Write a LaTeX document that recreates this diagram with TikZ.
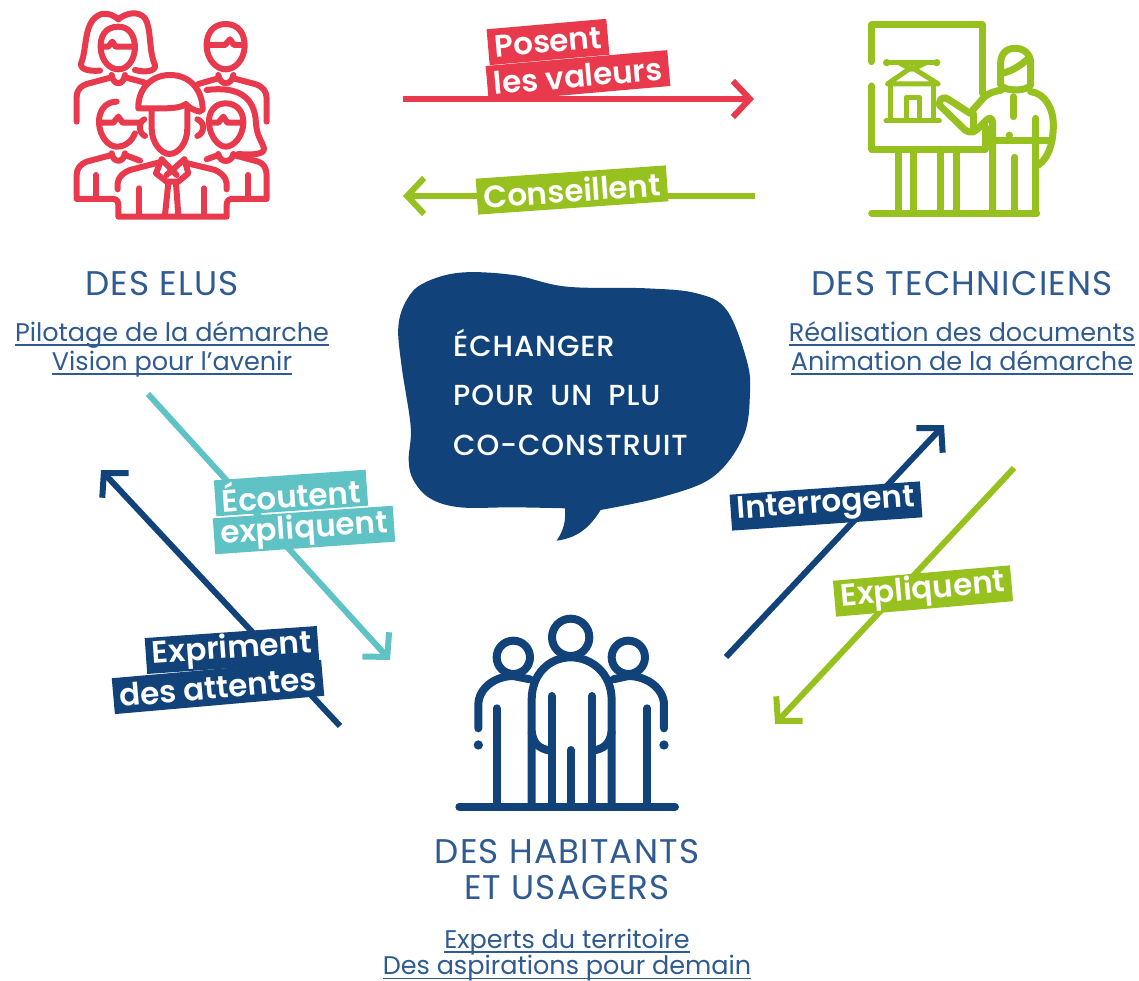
\documentclass[tikz,border=0pt]{standalone}
\usepackage{fontspec}
\setmainfont{Poppins}[BoldFont={Poppins SemiBold}]
\newfontfamily\titrefont{Poppins}[LetterSpace=3.5]
\newfontfamily\slogansfont{Poppins Medium}[LetterSpace=3.2,WordSpace=1.9]
\usetikzlibrary{arrows.meta}
\definecolor{rouge}{HTML}{E8394D}
\definecolor{vert}{HTML}{97C11F}
\definecolor{marine}{HTML}{11437A}
\definecolor{turquoise}{HTML}{5FC2C4}
\definecolor{texte}{HTML}{2F5A92}
\newsavebox\boitesoul
\newcommand\souligne[1]{\sbox\boitesoul{#1}\usebox\boitesoul\llap{\rule[-4.5pt]{\wd\boitesoul}{1.3pt}}}
\tikzset{
  fleche/.style={line width=6pt, -{Straight Barb[length=17pt,width=36pt,line width=6pt]}},
  etiquette/.style={text=white, font=\fontsize{31}{31}\selectfont\bfseries, inner xsep=6.5pt, inner ysep=1pt, minimum height=36pt},
  titre/.style={text=texte, font=\titrefont\fontsize{34.2}{35}\selectfont},
  soustitre/.style={text=texte, anchor=base, inner sep=0pt, font=\fontsize{25.5}{26}\selectfont},
  picto/.style={line cap=round, line join=round},
  slogan/.style={text=white, anchor=west, inner sep=0pt, font=\slogansfont\fontsize{29}{30}\selectfont}
}
\begin{document}
\begin{tikzpicture}[x=1pt,y=-1pt]
  \useasboundingbox (0,0) rectangle (1139,981);

  % Elus
  \begin{scope}[shift={(50,0)},x=0.3333pt,y=-0.3333pt,picto,line width=6pt]
    % femme
    \draw[rouge] (150,212) .. controls (110,215) and (85,205) .. (95,185) .. controls (112,140) and (100,60) .. (155,42) .. controls (175,38) and (195,48) .. (205,58) .. controls (225,40) and (265,30) .. (285,55) .. controls (305,85) and (295,150) .. (315,195) .. controls (318,215) and (285,218) .. (255,210);
    \draw[rouge] (205,80) .. controls (165,80) and (150,110) .. (152,145) .. controls (155,185) and (180,208) .. (205,208) .. controls (230,208) and (252,185) .. (255,145) .. controls (255,110) and (240,80) .. (205,80);
    \draw[rouge] (155,140) -- (175,140) -- (187,125) -- (197,140) -- (252,140);
    \draw[rouge] (185,225) .. controls (190,258) and (220,258) .. (225,225);
    \draw[rouge] (80,365) -- (80,290) .. controls (82,265) and (95,258) .. (110,252) -- (185,232);
    \draw[rouge] (225,232) -- (285,248);
    % homme
    \draw[rouge] (527,72) .. controls (490,72) and (468,100) .. (470,140) .. controls (472,180) and (500,208) .. (527,208) .. controls (555,208) and (582,180) .. (584,140) .. controls (585,100) and (565,72) .. (527,72);
    \draw[rouge] (472,135) -- (525,135) -- (540,118) -- (552,135) -- (582,135);
    \draw[rouge] (505,225) .. controls (510,258) and (545,258) .. (550,225);
    \draw[rouge] (445,252) -- (505,235);
    \draw[rouge] (550,235) -- (615,252) .. controls (640,260) and (650,275) .. (650,295) -- (650,365);
    % homme devant
    \draw[rouge] (200,305) .. controls (165,305) and (145,335) .. (147,370) .. controls (150,410) and (175,440) .. (200,440) .. controls (225,440) and (245,425) .. (255,400);
    \draw[rouge] (147,368) -- (190,368) -- (205,350) -- (218,368) -- (265,368);
    \draw[rouge] (185,460) .. controls (190,490) and (220,490) .. (225,460);
    \draw[rouge] (185,465) -- (110,485) .. controls (92,492) and (80,505) .. (80,525) -- (80,597) -- (190,597) .. controls (200,597) and (205,605) .. (205,615) -- (205,650) -- (530,650) -- (530,615) .. controls (530,605) and (535,597) .. (545,597) -- (650,597) -- (650,525) .. controls (650,505) and (640,490) .. (625,485) -- (550,465);
    \draw[rouge] (225,465) -- (270,482);
    \draw[rouge] (138,525) -- (138,597);
    \draw[rouge] (595,525) -- (595,597);
    % femme devant
    \draw[rouge] (527,310) .. controls (495,310) and (475,335) .. (477,370) .. controls (480,410) and (505,440) .. (527,440) .. controls (552,440) and (578,410) .. (580,370) .. controls (582,335) and (560,310) .. (527,310);
    \draw[rouge] (480,368) -- (505,368) -- (520,350) -- (532,368) -- (578,368);
    \draw[rouge] (505,462) .. controls (510,490) and (545,490) .. (550,462);
    \draw[rouge] (470,270) .. controls (550,260) and (615,280) .. (618,370) .. controls (620,410) and (640,430) .. (642,445) .. controls (645,465) and (600,465) .. (565,462);
    \draw[rouge] (470,478) -- (505,465);
    % homme au centre
    \draw[rouge] (265,322) .. controls (265,265) and (305,225) .. (360,225) .. controls (420,225) and (458,270) .. (458,330);
    \draw[rouge] (265,325) -- (340,325) .. controls (370,325) and (395,322) .. (408,312) .. controls (418,325) and (435,332) .. (450,335);
    \draw[rouge] (305,330) -- (305,385) .. controls (305,430) and (335,462) .. (358,462) .. controls (385,462) and (412,430) .. (412,385) -- (412,320);
    \draw[rouge] (283,358) .. controls (265,365) and (265,400) .. (285,408);
    \draw[rouge] (442,358) .. controls (465,365) and (465,400) .. (442,408);
    \draw[rouge] (335,478) -- (318,520) -- (350,545) -- (385,545) -- (415,520) -- (403,478);
    \draw[rouge] (335,478) -- (380,525);
    \draw[rouge] (403,478) -- (350,525);
    \draw[rouge] (345,645) -- (355,550);
    \draw[rouge] (385,645) -- (378,550);
    \draw[rouge] (203,568) -- (203,550) .. controls (205,530) and (220,518) .. (240,510) -- (325,488);
    \draw[rouge] (530,568) -- (530,550) .. controls (528,530) and (512,518) .. (495,510) -- (405,488);
    \draw[rouge] (268,565) -- (268,645);
    \draw[rouge] (462,565) -- (462,645);
  \end{scope}

  % Techniciens
  \begin{scope}[shift={(850,10)},x=0.3333pt,y=-0.3333pt,picto,line width=7pt]
    \draw[vert] (65,155) -- (65,45) -- (398,45) -- (398,250);
    \draw[vert] (65,228) -- (65,418) -- (405,418) -- (405,350);
    \draw[vert] (145,418) -- (145,610);
    \draw[vert] (190,418) -- (190,610);
    \draw[vert] (272,418) -- (272,610);
    \draw[vert] (318,418) -- (318,610);
    \draw[vert] (65,610) -- (560,610);
    % maison
    \draw[vert,line width=5pt] (110,158) -- (260,158);
    \fill[vert] (110,158) circle (11) (260,158) circle (11);
    \draw[vert,line width=5pt] (150,160) -- (185,178) -- (225,160);
    \draw[vert,line width=5pt] (112,222) -- (185,172) -- (265,222) -- cycle;
    \draw[vert,line width=5pt] (122,225) -- (122,330);
    \draw[vert,line width=5pt] (250,225) -- (250,330);
    \draw[vert,line width=5pt] (108,333) -- (268,333);
    \draw[vert,line width=5pt] (168,330) -- (168,262) -- (208,262) -- (208,330);
    % personne
    \draw[vert] (452,225) -- (452,160) .. controls (452,130) and (470,115) .. (495,115) .. controls (520,115) and (542,130) .. (542,160) -- (542,225) .. controls (530,245) and (465,245) .. (452,225);
    \draw[vert] (455,190) .. controls (480,185) and (505,172) .. (530,150);
    \draw[vert] (268,280) .. controls (270,262) and (285,260) .. (295,268) -- (360,310) -- (395,270) .. controls (410,250) and (430,245) .. (455,240);
    \draw[vert] (542,245) .. controls (585,250) and (610,295) .. (610,345) .. controls (610,400) and (595,445) .. (565,465);
    \draw[vert] (268,285) -- (345,360) .. controls (360,372) and (375,365) .. (385,355) -- (410,330) .. controls (420,320) and (428,325) .. (428,340) -- (428,610);
    \draw[vert] (370,312) -- (370,365);
    \draw[vert] (490,260) -- (490,320);
    \draw[vert] (558,325) -- (558,610);
    \draw[vert] (430,392) -- (605,392);
    \fill[vert] (478,376) circle (11);
    \draw[vert] (495,442) -- (495,610);
  \end{scope}

  % Habitants
  \begin{scope}[shift={(440,600)},x=0.3333pt,y=-0.3333pt,picto,line width=8pt]
    \draw[marine] (392,112) circle (56);
    \draw[marine] (220,172) circle (50);
    \draw[marine] (565,172) circle (50);
    \draw[marine] (275,620) -- (275,300) .. controls (275,220) and (330,172) .. (392,172) .. controls (455,172) and (515,220) .. (515,300) -- (515,620);
    \draw[marine] (275,395) .. controls (280,430) and (295,445) .. (330,452);
    \draw[marine] (515,395) .. controls (510,430) and (495,445) .. (460,452);
    \draw[marine] (335,288) -- (335,620);
    \draw[marine] (456,288) -- (456,620);
    \draw[marine] (392,450) -- (392,620);
    \draw[marine] (115,385) -- (115,315) .. controls (115,265) and (165,228) .. (220,228) -- (270,238);
    \draw[marine] (672,385) -- (672,315) .. controls (672,265) and (620,228) .. (565,228) -- (520,238);
    \draw[marine] (170,325) -- (170,620);
    \draw[marine] (622,325) -- (622,620);
    \fill[marine] (115,435) circle (14) (672,435) circle (14);
    \draw[marine] (58,620) -- (705,620);
  \end{scope}

  % Bulle
  \begin{scope}[shift={(380,260)},x=0.3333pt,y=-0.3333pt]
    \fill[marine] plot[smooth,tension=.6] coordinates {(555,745) (400,742) (240,742) (150,715) (100,660) (86,600) (92,500) (65,320) (55,200) (80,120) (130,70) (240,38) (400,45) (560,80) (800,85) (950,100) (1040,150) (1100,300) (1110,400) (1090,530) (1000,650) (850,710) (662,750)} .. controls (625,810) and (585,835) .. (530,842) .. controls (552,810) and (558,780) .. (555,745) -- cycle;
  \end{scope}
  \node[slogan] (echanger) at (453,343) {ÉCHANGER};
  \node[slogan] (plu) at (453,395) {POUR UN PLU};
  \node[slogan] (construit) at (453,445) {CO-CONSTRUIT};

  % Titres
  \node[titre] (elus) at (162,284) {DES ELUS};
  \node[soustitre] (pilotage) at (172,341) {\souligne{Pilotage de la démarche}};
  \node[soustitre] (vision) at (172,370) {\souligne{Vision pour l’avenir}};
  \node[titre] (techniciens) at (962,284) {DES TECHNICIENS};
  \node[soustitre] (realisation) at (962,341) {\souligne{Réalisation des documents}};
  \node[soustitre] (animation) at (962,370) {\souligne{Animation de la démarche}};
  \node[titre] (habitants) at (567,852) {DES HABITANTS};
  \node[titre] (usagers) at (567,888) {ET USAGERS};
  \node[soustitre] (experts) at (567,948) {\souligne{Experts du territoire}};
  \node[soustitre] (aspirations) at (567,974.5) {\souligne{Des aspirations pour demain}};

  % Fleches
  \coordinate (valeursA) at (403,99);
  \coordinate (valeursB) at (754,99);
  \coordinate (conseilA) at (755,196);
  \coordinate (conseilB) at (403,196);
  \coordinate (ecouteA) at (148,394);
  \coordinate (ecouteB) at (390,660);
  \coordinate (attenteA) at (340,726);
  \coordinate (attenteB) at (101,470);
  \coordinate (interrogeA) at (726,657);
  \coordinate (interrogeB) at (944,425);
  \coordinate (expliqueA) at (1014,468);
  \coordinate (expliqueB) at (775,724);
  \draw[fleche,rouge] (valeursA) -- (valeursB);
  \draw[fleche,vert] (conseilA) -- (conseilB);
  \draw[fleche,turquoise] (ecouteA) -- (ecouteB);
  \draw[fleche,marine] (attenteA) -- (attenteB);
  \draw[fleche,marine] (interrogeA) -- (interrogeB);
  \draw[fleche,vert] (expliqueA) -- (expliqueB);

  % Etiquettes
  \node[etiquette,fill=rouge,rotate=5] (posent) at (548,42) {Posent};
  \node[etiquette,fill=rouge,rotate=5] (lesvaleurs) at (578,76) {les valeurs};
  \node[etiquette,fill=vert,rotate=4] (conseillent) at (572,190) {Conseillent};
  \node[etiquette,fill=turquoise,rotate=4] (ecoutent) at (291,493) {Écoutent};
  \node[etiquette,fill=turquoise,rotate=4] (expliquent) at (304,530) {expliquent};
  \node[etiquette,fill=marine,rotate=4] (expriment) at (232,650) {Expriment};
  \node[etiquette,fill=marine,rotate=5] (desattentes) at (218,687) {des attentes};
  \node[etiquette,fill=marine,rotate=4] (interrogent) at (826,506) {Interrogent};
  \node[etiquette,fill=vert,rotate=5] (expliquent2) at (923,591) {Expliquent};
\end{tikzpicture}
\end{document}
